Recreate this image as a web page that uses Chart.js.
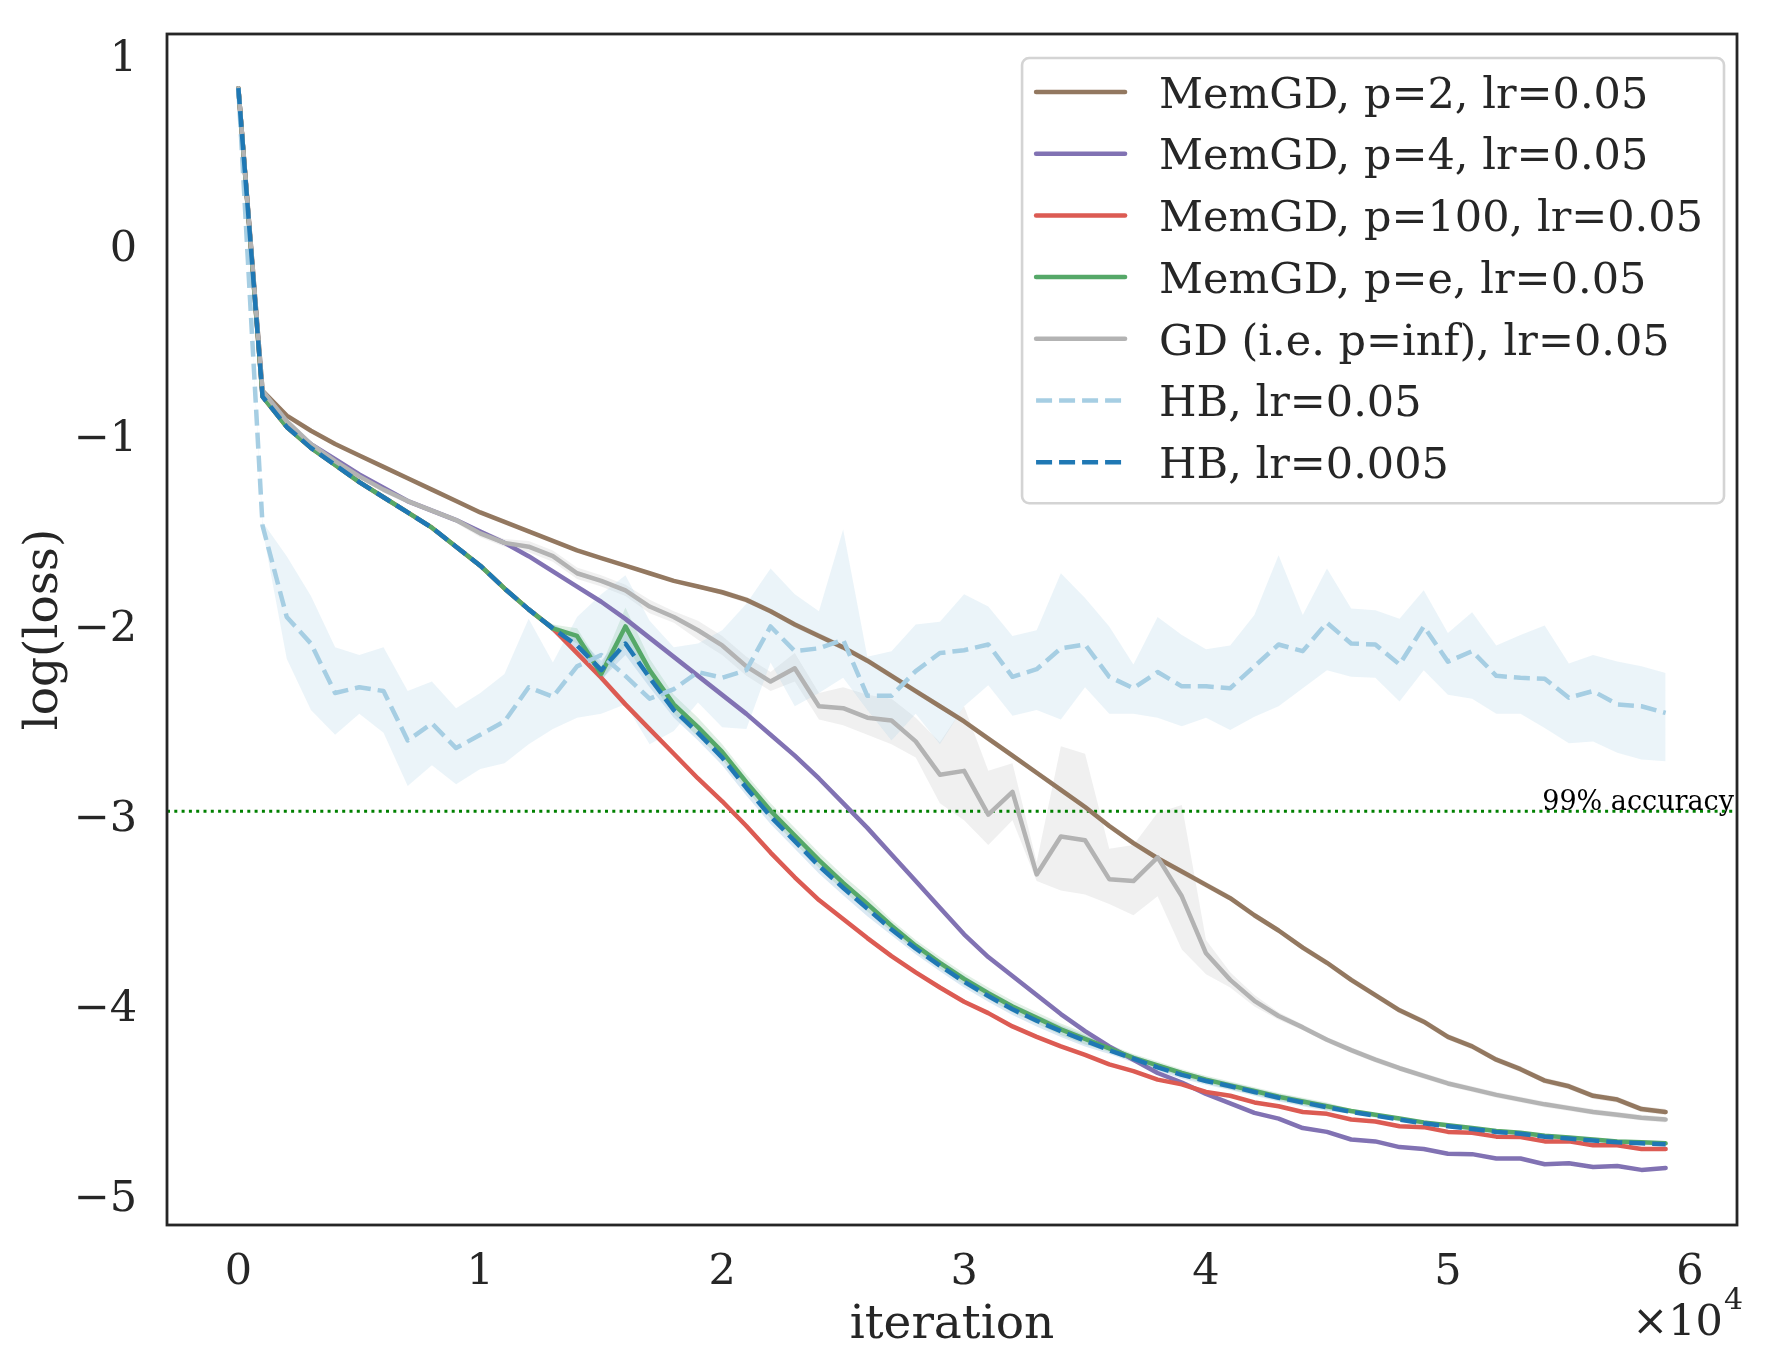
<!DOCTYPE html>
<html>
<head>
<meta charset="utf-8">
<script src="https://cdn.jsdelivr.net/npm/chart.js@4.4.1/dist/chart.umd.min.js"></script>
<style>
html,body{margin:0;padding:0;background:#ffffff;}
#wrap{width:1775px;height:1368px;position:relative;}
</style>
</head>
<body>
<div id="wrap"><canvas id="c"></canvas></div>
<script>
// ---------------- DATA ----------------
const iterations = [0,1000,2000,3000,4000,5000,6000,7000,8000,9000,
  10000,11000,12000,13000,14000,15000,16000,17000,18000,19000,
  20000,21000,22000,23000,24000,25000,26000,27000,28000,29000,
  30000,31000,32000,33000,34000,35000,36000,37000,38000,39000,
  40000,41000,42000,43000,44000,45000,46000,47000,48000,49000,
  50000,51000,52000,53000,54000,55000,56000,57000,58000,59000];

const xTickValues = [0,10000,20000,30000,40000,50000,60000];
const yTickValues = [-5,-4,-3,-2,-1,0,1];

const seriesLabels = [
  "MemGD, p=2, lr=0.05",
  "MemGD, p=4, lr=0.05",
  "MemGD, p=100, lr=0.05",
  "MemGD, p=e, lr=0.05",
  "GD (i.e. p=inf), lr=0.05",
  "HB, lr=0.05",
  "HB, lr=0.005"
];

const memgdP2 = [0.853,-0.74,-0.87,-0.95,-1.02,-1.08,-1.14,-1.20,-1.26,-1.32,
  -1.38,-1.43,-1.48,-1.53,-1.58,-1.62,-1.66,-1.70,-1.74,-1.77,
  -1.80,-1.84,-1.90,-1.97,-2.03,-2.09,-2.16,-2.24,-2.32,-2.40,
  -2.48,-2.57,-2.66,-2.75,-2.84,-2.93,-3.03,-3.12,-3.20,-3.27,
  -3.34,-3.41,-3.50,-3.58,-3.67,-3.75,-3.84,-3.92,-4.00,-4.06,
  -4.14,-4.19,-4.26,-4.31,-4.37,-4.40,-4.45,-4.47,-4.52,-4.535];
const memgdP2Spread = [0,0.005,0.005,0.005,0.005,0.005,0.005,0.005,0.005,0.005,
  0.005,0.005,0.005,0.005,0.005,0.005,0.005,0.005,0.005,0.01,
  0.015,0.015,0.015,0.015,0.015,0.015,0.015,0.015,0.015,0.015,
  0.015,0.015,0.015,0.015,0.015,0.015,0.015,0.015,0.015,0.015,
  0.015,0.015,0.015,0.015,0.015,0.015,0.015,0.015,0.015,0.015,
  0.015,0.015,0.015,0.015,0.015,0.015,0.015,0.015,0.015,0.015];

const memgdP4 = [0.853,-0.76,-0.92,-1.02,-1.10,-1.18,-1.25,-1.32,-1.37,-1.42,
  -1.48,-1.54,-1.61,-1.69,-1.77,-1.85,-1.94,-2.04,-2.14,-2.24,
  -2.34,-2.44,-2.55,-2.66,-2.78,-2.91,-3.04,-3.18,-3.32,-3.46,
  -3.60,-3.72,-3.82,-3.92,-4.02,-4.11,-4.19,-4.26,-4.33,-4.38,
  -4.44,-4.49,-4.54,-4.57,-4.62,-4.64,-4.68,-4.69,-4.72,-4.73,
  -4.755,-4.757,-4.78,-4.78,-4.81,-4.805,-4.825,-4.82,-4.84,-4.83];

const memgdP100 = [0.853,-0.77,-0.93,-1.04,-1.13,-1.22,-1.30,-1.38,-1.46,-1.56,
  -1.66,-1.78,-1.89,-1.99,-2.12,-2.25,-2.39,-2.52,-2.65,-2.78,
  -2.90,-3.03,-3.17,-3.30,-3.42,-3.52,-3.62,-3.715,-3.80,-3.88,
  -3.955,-4.015,-4.085,-4.14,-4.19,-4.235,-4.285,-4.32,-4.365,-4.39,
  -4.43,-4.45,-4.485,-4.505,-4.535,-4.545,-4.575,-4.585,-4.61,-4.615,
  -4.64,-4.645,-4.665,-4.667,-4.69,-4.69,-4.71,-4.71,-4.73,-4.73];

const memgdPe = [0.853,-0.77,-0.93,-1.04,-1.13,-1.22,-1.30,-1.38,-1.46,-1.56,
  -1.66,-1.78,-1.89,-1.99,-2.03,-2.23,-1.98,-2.21,-2.39,-2.51,
  -2.64,-2.80,-2.95,-3.08,-3.21,-3.33,-3.44,-3.555,-3.66,-3.75,
  -3.835,-3.91,-3.98,-4.04,-4.10,-4.15,-4.20,-4.25,-4.29,-4.33,
  -4.365,-4.395,-4.425,-4.455,-4.48,-4.505,-4.53,-4.55,-4.57,-4.59,
  -4.605,-4.62,-4.635,-4.645,-4.66,-4.67,-4.68,-4.69,-4.695,-4.70];
const memgdPeSpread = [0,0,0,0,0,0,0,0,0,0,
  0,0,0,0.02,0.04,0.04,0.10,0.06,0.05,0.05,
  0.04,0.04,0.04,0.04,0.04,0.04,0.04,0.03,0.03,0.03,
  0.03,0.03,0.03,0.03,0.03,0.03,0.02,0.02,0.02,0.02,
  0.02,0.02,0.02,0.02,0.02,0.02,0.01,0.01,0.01,0.01,
  0.01,0.01,0.01,0.01,0.01,0.01,0.01,0.01,0.01,0.01];

const gdInf = [0.853,-0.74,-0.90,-1.02,-1.11,-1.19,-1.26,-1.32,-1.37,-1.42,
  -1.49,-1.54,-1.56,-1.61,-1.70,-1.74,-1.79,-1.875,-1.93,-2.00,
  -2.08,-2.19,-2.27,-2.20,-2.40,-2.41,-2.46,-2.475,-2.585,-2.76,
  -2.74,-2.97,-2.85,-3.285,-3.085,-3.105,-3.31,-3.32,-3.195,-3.40,
  -3.70,-3.84,-3.95,-4.03,-4.09,-4.155,-4.21,-4.26,-4.305,-4.345,
  -4.385,-4.415,-4.445,-4.47,-4.495,-4.515,-4.535,-4.55,-4.565,-4.575];
const gdInfHi = [0.853,-0.73,-0.885,-1.005,-1.095,-1.175,-1.245,-1.305,-1.355,-1.405,
  -1.47,-1.52,-1.53,-1.58,-1.67,-1.71,-1.76,-1.84,-1.90,-1.95,
  -2.03,-2.14,-2.22,-2.12,-2.33,-2.30,-2.34,-2.36,-2.46,-2.59,
  -2.40,-2.74,-2.70,-3.22,-2.61,-2.65,-3.15,-3.13,-2.96,-2.92,
  -3.63,-3.80,-3.92,-4.01,-4.075,-4.14,-4.195,-4.245,-4.29,-4.33,
  -4.37,-4.40,-4.43,-4.455,-4.48,-4.50,-4.52,-4.535,-4.55,-4.56];
const gdInfLo = [0.853,-0.75,-0.915,-1.035,-1.125,-1.205,-1.275,-1.335,-1.385,-1.435,
  -1.51,-1.56,-1.59,-1.64,-1.73,-1.77,-1.82,-1.91,-1.96,-2.05,
  -2.13,-2.24,-2.32,-2.27,-2.47,-2.50,-2.55,-2.60,-2.67,-2.91,
  -3.00,-3.13,-3.00,-3.32,-3.37,-3.39,-3.44,-3.50,-3.40,-3.68,
  -3.81,-3.88,-3.98,-4.05,-4.105,-4.17,-4.225,-4.275,-4.32,-4.36,
  -4.40,-4.43,-4.46,-4.485,-4.51,-4.53,-4.55,-4.565,-4.58,-4.59];

const hbLr05 = [0.853,-1.45,-1.93,-2.07,-2.33,-2.30,-2.32,-2.58,-2.49,-2.62,
  -2.55,-2.48,-2.30,-2.35,-2.19,-2.13,-2.24,-2.36,-2.31,-2.22,
  -2.25,-2.21,-1.98,-2.11,-2.095,-2.05,-2.345,-2.345,-2.215,-2.12,
  -2.105,-2.075,-2.245,-2.205,-2.095,-2.075,-2.245,-2.305,-2.22,-2.295,
  -2.295,-2.305,-2.19,-2.075,-2.11,-1.96,-2.07,-2.075,-2.18,-1.98,
  -2.165,-2.11,-2.24,-2.25,-2.255,-2.355,-2.32,-2.39,-2.40,-2.435];
const hbLr05Hi = [0.853,-1.43,-1.61,-1.82,-2.09,-2.13,-2.09,-2.32,-2.27,-2.41,
  -2.33,-2.23,-1.94,-2.17,-1.93,-1.81,-1.71,-1.95,-2.09,-2.07,
  -2.00,-1.86,-1.675,-1.81,-1.90,-1.47,-2.14,-2.11,-1.97,-1.955,
  -1.81,-1.875,-2.03,-2.00,-1.70,-1.83,-1.98,-2.18,-1.93,-2.025,
  -2.10,-2.08,-1.92,-1.605,-1.92,-1.675,-1.885,-1.895,-1.94,-1.79,
  -2.015,-1.905,-2.08,-2.025,-1.975,-2.175,-2.13,-2.165,-2.19,-2.225];
const hbLr05Lo = [0.853,-1.47,-2.15,-2.42,-2.55,-2.44,-2.54,-2.82,-2.71,-2.81,
  -2.73,-2.70,-2.60,-2.52,-2.46,-2.44,-2.39,-2.60,-2.53,-2.38,
  -2.51,-2.52,-2.17,-2.40,-2.33,-2.25,-2.42,-2.58,-2.44,-2.60,
  -2.40,-2.29,-2.45,-2.42,-2.47,-2.30,-2.44,-2.44,-2.46,-2.505,
  -2.46,-2.525,-2.455,-2.40,-2.305,-2.21,-2.245,-2.25,-2.375,-2.21,
  -2.34,-2.36,-2.44,-2.44,-2.515,-2.595,-2.585,-2.645,-2.68,-2.69];

const hbLr005 = [0.853,-0.77,-0.93,-1.04,-1.13,-1.22,-1.30,-1.38,-1.46,-1.56,
  -1.66,-1.78,-1.89,-1.99,-2.08,-2.21,-2.07,-2.25,-2.42,-2.54,
  -2.67,-2.83,-2.98,-3.11,-3.24,-3.355,-3.465,-3.575,-3.675,-3.765,
  -3.85,-3.925,-3.995,-4.055,-4.11,-4.16,-4.21,-4.255,-4.30,-4.34,
  -4.372,-4.40,-4.43,-4.46,-4.485,-4.51,-4.535,-4.555,-4.575,-4.595,
  -4.61,-4.625,-4.64,-4.65,-4.665,-4.675,-4.685,-4.695,-4.70,-4.705];
const hbLr005Spread = [0,0,0,0,0,0,0,0,0,0,
  0,0,0,0.02,0.05,0.05,0.06,0.05,0.04,0.04,
  0.04,0.04,0.04,0.04,0.04,0.04,0.04,0.03,0.03,0.03,
  0.03,0.03,0.03,0.03,0.03,0.03,0.02,0.02,0.02,0.02,
  0.02,0.02,0.02,0.02,0.02,0.02,0.01,0.01,0.01,0.01,
  0.01,0.01,0.01,0.01,0.01,0.01,0.01,0.01,0.01,0.01];

const accuracyLevel = -2.953;
const accuracyLabel = "99% accuracy";
const accuracyLabelX = 53900;

// ---------------- STYLE ----------------
const COL = {
  brown: '#937860', purple: '#8172B3', red: '#DC5B53', green: '#55A868',
  gray: '#B3B3B3', lightBlue: '#A6CEE3', darkBlue: '#1F78B4', text: '#262626'
};
const FONT = '"DejaVu Serif", serif';
const LW = 4.5;
const DASH = [16, 7];

function pts(vals) { return vals.map((v, i) => ({x: iterations[i], y: v})); }
function offsetBy(vals, spread, sign) { return vals.map((v, i) => v + sign * spread[i]); }

const lineSeries = [
  {label: seriesLabels[0], data: memgdP2,  color: COL.brown,     dash: [], order: 7},
  {label: seriesLabels[1], data: memgdP4,  color: COL.purple,    dash: [], order: 6},
  {label: seriesLabels[2], data: memgdP100,color: COL.red,       dash: [], order: 5},
  {label: seriesLabels[3], data: memgdPe,  color: COL.green,     dash: [], order: 4},
  {label: seriesLabels[4], data: gdInf,    color: COL.gray,      dash: [], order: 3},
  {label: seriesLabels[5], data: hbLr05,   color: COL.lightBlue, dash: DASH, order: 2},
  {label: seriesLabels[6], data: hbLr005,  color: COL.darkBlue,  dash: DASH, order: 1}
];

const bands = [
  {hi: hbLr05Hi, lo: hbLr05Lo, color: 'rgba(166,206,227,0.22)'},
  {hi: gdInfHi, lo: gdInfLo, color: 'rgba(179,179,179,0.20)'},
  {hi: offsetBy(memgdP2, memgdP2Spread, 1), lo: offsetBy(memgdP2, memgdP2Spread, -1), color: 'rgba(147,120,96,0.20)'},
  {hi: offsetBy(memgdPe, memgdPeSpread, 1), lo: offsetBy(memgdPe, memgdPeSpread, -1), color: 'rgba(85,168,104,0.18)'},
  {hi: offsetBy(hbLr005, hbLr005Spread, 1), lo: offsetBy(hbLr005, hbLr005Spread, -1), color: 'rgba(31,120,180,0.16)'}
];

const datasets = [];
bands.forEach((b, i) => {
  datasets.push({label: 'band' + i + 'hi', data: pts(b.hi), fill: '+1', backgroundColor: b.color,
    borderColor: 'rgba(0,0,0,0)', borderWidth: 0, pointRadius: 0, order: 20});
  datasets.push({label: 'band' + i + 'lo', data: pts(b.lo), fill: false, backgroundColor: 'rgba(0,0,0,0)',
    borderColor: 'rgba(0,0,0,0)', borderWidth: 0, pointRadius: 0, order: 20});
});
lineSeries.forEach(s => {
  datasets.push({label: s.label, data: pts(s.data), fill: false, borderColor: s.color,
    borderWidth: LW, borderDash: s.dash, borderCapStyle: s.dash.length ? 'butt' : 'round',
    borderJoinStyle: 'round', pointRadius: 0, tension: 0, order: s.order});
});

// ---------------- PLUGINS ----------------
const refLinePlugin = {
  id: 'refLine',
  beforeDatasetsDraw(chart) {
    const {ctx, chartArea} = chart;
    const y = chart.scales.y.getPixelForValue(accuracyLevel);
    ctx.save();
    ctx.strokeStyle = '#008000';
    ctx.lineWidth = 3;
    ctx.setLineDash([3, 4.3]);
    ctx.beginPath();
    ctx.moveTo(chartArea.left, y);
    ctx.lineTo(chartArea.right, y);
    ctx.stroke();
    ctx.restore();
  }
};

const decorPlugin = {
  id: 'decor',
  afterDatasetsDraw(chart) {
    const {ctx, chartArea} = chart;
    ctx.save();
    // frame
    ctx.strokeStyle = COL.text;
    ctx.lineWidth = 2.8;
    ctx.strokeRect(chartArea.left, chartArea.top, chartArea.right - chartArea.left, chartArea.bottom - chartArea.top);
    // accuracy label
    ctx.fillStyle = '#000000';
    ctx.font = '27px ' + FONT;
    ctx.textAlign = 'left';
    ctx.textBaseline = 'alphabetic';
    ctx.fillText(accuracyLabel, chart.scales.x.getPixelForValue(accuracyLabelX), chart.scales.y.getPixelForValue(accuracyLevel) - 1);
    // offset text x10^4
    ctx.fillStyle = COL.text;
    const xr = chartArea.right + 6;
    ctx.font = '30px ' + FONT;
    ctx.textAlign = 'right';
    ctx.fillText('4', xr, chartArea.bottom + 84);
    const w4 = ctx.measureText('4').width;
    ctx.font = '43px ' + FONT;
    ctx.fillText('\u00d710', xr - w4 - 1, chartArea.bottom + 110);
    ctx.restore();
  },
  afterDraw(chart) {
    const {ctx, chartArea} = chart;
    ctx.save();
    ctx.font = '43px ' + FONT;
    let maxW = 0;
    lineSeries.forEach(s => { maxW = Math.max(maxW, ctx.measureText(s.label).width); });
    const padL = 14, handleLen = 89, gap = 34, padR = 21;
    const right = chartArea.right - 13;
    const left = right - (padL + handleLen + gap + maxW + padR);
    const top = chartArea.top + 24;
    const row0 = top + 34, pitch = 61.7;
    const bottom = row0 + pitch * (lineSeries.length - 1) + 41;
    const r = 7;
    ctx.beginPath();
    ctx.moveTo(left + r, top);
    ctx.lineTo(right - r, top);
    ctx.arcTo(right, top, right, top + r, r);
    ctx.lineTo(right, bottom - r);
    ctx.arcTo(right, bottom, right - r, bottom, r);
    ctx.lineTo(left + r, bottom);
    ctx.arcTo(left, bottom, left, bottom - r, r);
    ctx.lineTo(left, top + r);
    ctx.arcTo(left, top, left + r, top, r);
    ctx.closePath();
    ctx.fillStyle = 'rgba(255,255,255,0.8)';
    ctx.fill();
    ctx.strokeStyle = '#d4d4d4';
    ctx.lineWidth = 2.6;
    ctx.stroke();
    lineSeries.forEach((s, i) => {
      const y = row0 + pitch * i;
      const hx = left + padL;
      ctx.beginPath();
      ctx.strokeStyle = s.color;
      ctx.lineWidth = LW;
      ctx.setLineDash(s.dash);
      ctx.lineCap = s.dash.length ? 'butt' : 'round';
      ctx.moveTo(hx, y);
      ctx.lineTo(hx + handleLen, y);
      ctx.stroke();
      ctx.setLineDash([]);
      ctx.fillStyle = COL.text;
      ctx.textAlign = 'left';
      ctx.textBaseline = 'alphabetic';
      ctx.fillText(s.label, hx + handleLen + gap, y + 15.7);
    });
    ctx.restore();
  }
};

// ---------------- CHART ----------------
Chart.defaults.font.family = FONT;
Chart.defaults.color = COL.text;

function noScalePadding(s) {
  s.paddingTop = 0; s.paddingBottom = 0; s.paddingLeft = 0; s.paddingRight = 0;
}

new Chart(document.getElementById('c'), {
  type: 'line',
  data: {datasets},
  options: {
    responsive: true,
    maintainAspectRatio: false,
    animation: false,
    layout: {padding: {left: 0, right: 38, top: 34, bottom: 0}},
    plugins: {
      legend: {display: false},
      tooltip: {enabled: false},
      filler: {drawTime: 'beforeDatasetsDraw'}
    },
    scales: {
      x: {
        type: 'linear',
        min: -2950, max: 61950,
        grid: {display: false, drawTicks: false},
        border: {display: false},
        afterBuildTicks: s => { s.ticks = xTickValues.map(v => ({value: v})); },
        afterFit: s => { s.height = 143; noScalePadding(s); },
        ticks: {
          autoSkip: false, padding: 22, maxRotation: 0,
          font: {size: 43, family: FONT}, color: COL.text,
          callback: v => String(v / 10000)
        },
        title: {display: true, text: 'iteration', font: {size: 47, family: FONT}, color: COL.text,
          padding: {top: 0, bottom: 14}}
      },
      y: {
        type: 'linear',
        min: -5.13, max: 1.138,
        grid: {display: false, drawTicks: false},
        border: {display: false},
        afterBuildTicks: s => { s.ticks = yTickValues.map(v => ({value: v})); },
        afterFit: s => { s.width = 167; noScalePadding(s); },
        ticks: {
          autoSkip: false, padding: 30,
          font: {size: 43, family: FONT}, color: COL.text,
          callback: v => (v < 0 ? '\u2212' + Math.abs(v) : String(v))
        },
        title: {display: true, text: 'log(loss)', font: {size: 47, family: FONT}, color: COL.text,
          padding: {top: 17, bottom: 0}}
      }
    }
  },
  plugins: [refLinePlugin, decorPlugin]
});
</script>
</body>
</html>
